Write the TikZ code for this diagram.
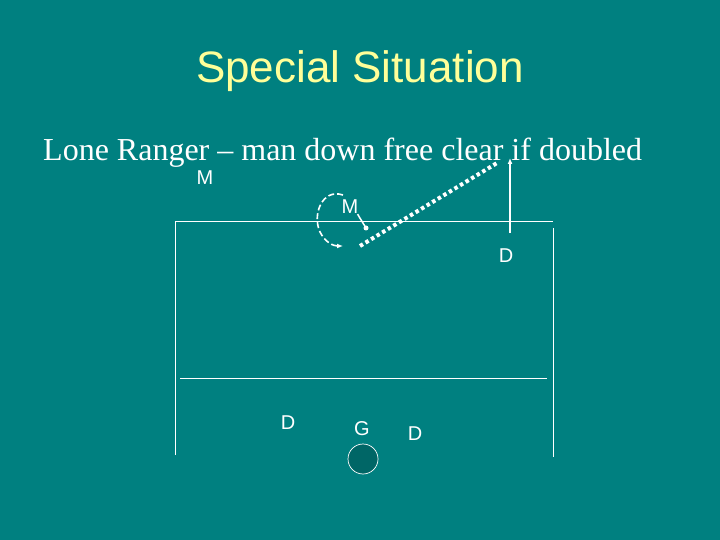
\documentclass[tikz,border=0pt]{standalone}
\usepackage{fontspec}
\setmainfont{Liberation Serif}
\setsansfont{Liberation Sans}
\usetikzlibrary{positioning,arrows.meta}
\definecolor{pool}{HTML}{008080}
\definecolor{crease}{HTML}{006666}
\definecolor{headline}{HTML}{FFFF99}
\tikzset{>={Latex[length=6pt,width=5pt]}}
\tikzset{
    player/.style={font=\sffamily\fontsize{20}{20}\selectfont, text=white, anchor=center, inner sep=0pt},
    court/.style={white, line width=1pt},
}

\begin{document}
\begin{tikzpicture}[x=1pt,y=-1pt]
    \fill [pool] (0,0) rectangle (720,540);
    \useasboundingbox (0,0) rectangle (720,540);

    % Heading.
    \node [anchor=base, text=headline, font=\sffamily\fontsize{44}{44}\selectfont, inner sep=0pt] (title) at (360,83) {Special Situation};
    \node [anchor=base west, text=white, font=\fontsize{32}{32}\selectfont, inner sep=0pt] (subtitle) at (43,161) {Lone Ranger -- man down free clear if doubled};

    % Field lines.
    \draw [court] (175,455) -- (175,222) -- (553,222);
    \draw [court] (553,228) -- (553,457);
    \draw [court] (180,378) -- (547,378);

    % Players.
    \node [player] (mtop)   at (205,178) {M};
    \node [player] (mcut)   at (350,207) {M};
    \node [player] (dright) at (506,256) {D};
    \node [player] (dleft)  at (288,423) {D};
    \node [player] (goalie) at (362,429) {G};
    \node [player] (dlow)   at (415,434) {D};
    \node [circle, draw=white, fill=crease, line width=0.7pt, minimum size=30pt, inner sep=0pt] (cage) at (363,459) {};

    % Movement.
    \coordinate (mspot)  at (366,228);
    \coordinate (catch)  at (360,246);
    \coordinate (loop)   at (343,195);
    \coordinate (dstart) at (510,233);
    \coordinate (dend)   at (510,158);
    \coordinate (pass)   at (497,163);

    \fill [white] (mspot) circle (2.5pt);
    \draw [white, line width=1.5pt] (mcut.south east) ++(-1,0) -- (mspot);
    \draw [white, line width=1.6pt, dash pattern=on 6pt off 3pt, ->]
        (loop) .. controls (322,188) and (312,215) .. (320,232)
        .. controls (325,242) and (333,246) .. (343,246);
    \draw [white, line width=2pt, ->] (dstart) -- (dend);
    \draw [white, line width=4pt, dash pattern=on 3.5pt off 3pt] (catch) -- (pass);
\end{tikzpicture}
\end{document}
